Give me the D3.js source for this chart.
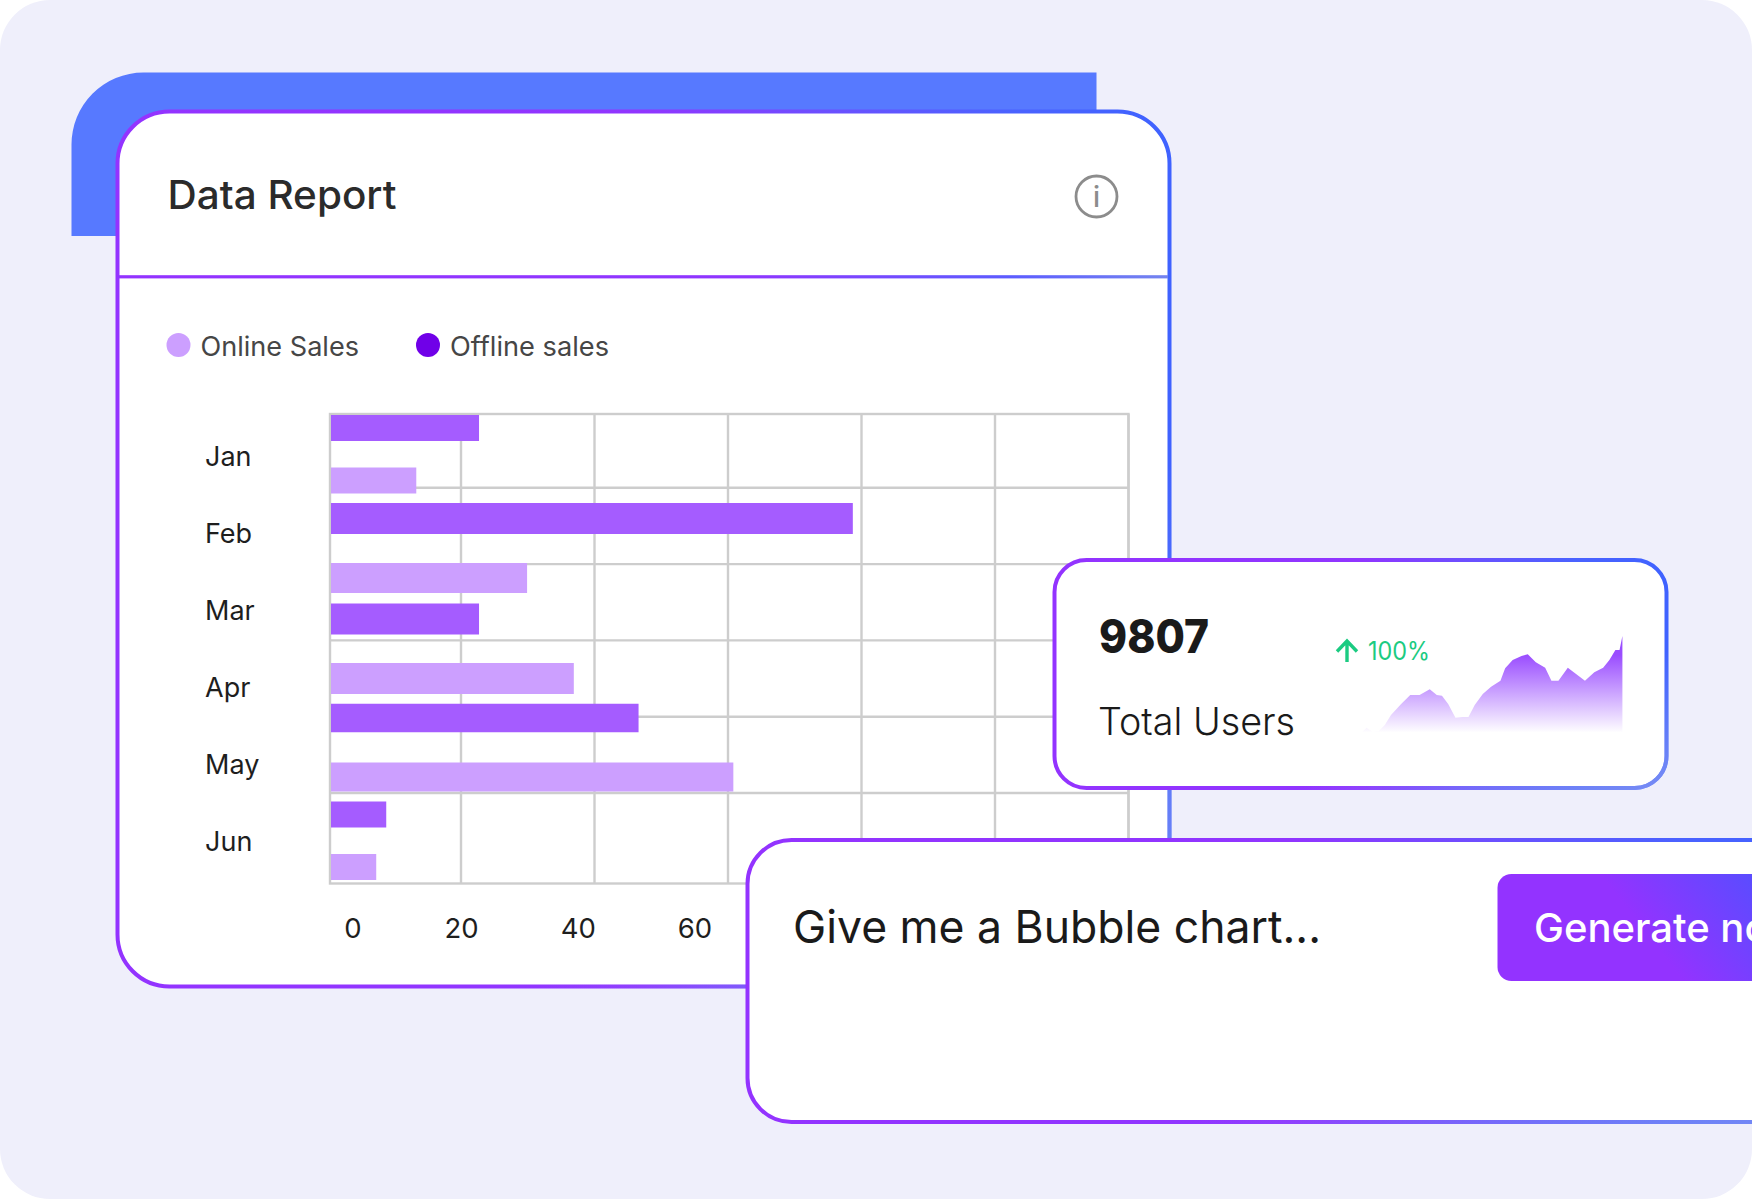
<!DOCTYPE html>
<html><head><meta charset="utf-8">
<script src="https://cdn.jsdelivr.net/npm/d3@7/dist/d3.min.js"></script>
<style>html,body{margin:0;padding:0;background:#fff;overflow:hidden}svg{display:block}text{font-family:Inter,"Open Sans",sans-serif}</style>
</head><body><div id="c"></div>
<script>
// ---- data ----
const months = ["Jan","Feb","Mar","Apr","May","Jun"];
const offlineSales = [22.7,78.7,22.7,46.6,8.8];
const onlineSales  = [13.3,29.9,36.9,60.8,7.3];
const gridTicks = [20,40,60,80,100,120];
const axisLabels = [0,20,40,60];
const legendNames = ["Online Sales","Offline sales"];
const sparkIndex = [0,1.6,3.9,6.3,8.6,11,14.9,18.4,22,25.9,28.6,30.6,33,35.8,38.5,40.8,43.2,46.3,49.5,53.1,54.9,57.8,61.2,63.6,66.7,70.3,72.7,75.4,79,85.6,89.2,92.6,95,97.3,98.9,100];
const sparkValues = [0,4.2,0,.7,7,17.4,28.9,38.3,38.3,44.3,38.3,37.6,28.9,14.6,15.3,15.3,27.9,39.4,47,53.3,66.2,74.9,79.1,80.8,72.5,66.9,53.3,53.3,66.9,53.3,62,66.9,74.9,85.4,85.4,100];

const W=1752,H=1199;
const svg=d3.select("#c").append("svg").attr("width",W).attr("height",H).attr("viewBox",`0 0 ${W} ${H}`);
const defs=svg.append("defs");
function grad(id,stops,x1=0,y1=0,x2=1,y2=0,units="objectBoundingBox"){
  const g=defs.append("linearGradient").attr("id",id).attr("gradientUnits",units).attr("x1",x1).attr("y1",y1).attr("x2",x2).attr("y2",y2);
  stops.forEach(([o,c,a])=>g.append("stop").attr("offset",o).attr("stop-color",c).attr("stop-opacity",a===undefined?1:a));
}
grad("border",[[0,"#9333ff"],[.5,"#9035ff"],[.68,"#6a50ff"],[.85,"#4a62ff"],[1,"#3f62ff"]],0,0,1,0);
grad("sheen",[[0,"#8a9af0",0],[1,"#8a9af0",.75]],.7,.7,1,1);
grad("divider",[[0,"#9333ff"],[.6,"#8f36ff"],[.85,"#5c5cff"],[1,"#7484ef"]]);
grad("button",[[0,"#9333ff"],[1,"#5a4cff"]],1600,874,1695,800,"userSpaceOnUse");
grad("spark",[[0,"#9a4dff"],[1,"#ffffff"]],0,655,0,733,"userSpaceOnUse");

function framedCard(parent,x,y,w,h,r){
  parent.append("rect").attr("x",x).attr("y",y).attr("width",w).attr("height",h).attr("rx",r).attr("fill","#fff").attr("stroke","url(#border)").attr("stroke-width",4);
  parent.append("rect").attr("x",x).attr("y",y).attr("width",w).attr("height",h).attr("rx",r).attr("fill","none").attr("stroke","url(#sheen)").attr("stroke-width",4);
}

// page background and back plate
svg.append("rect").attr("width",W).attr("height",H).attr("rx",50).attr("fill","#efeffb");
svg.append("path").attr("d","M71.5 236V145A72 72 0 0 1 143.5 72.5H1096.5V236Z").attr("fill","#5779ff");

// main card
const card=svg.append("g");
framedCard(card,117.5,111.5,1052,875,52);
card.append("rect").attr("x",119).attr("y",275.2).attr("width",1049).attr("height",3.2).attr("fill","url(#divider)");
card.append("text").attr("x",167.5).attr("y",209).attr("font-size",39.5).attr("font-weight",500).attr("fill","#2b2b2b").attr("textLength",229).attr("lengthAdjust","spacingAndGlyphs").text("Data Report");
// info icon
const ic=card.append("g").attr("transform","translate(1096.5,196.5)");
ic.append("circle").attr("r",20.5).attr("fill","none").attr("stroke","#8c8c8c").attr("stroke-width",2.8);
ic.append("text").attr("text-anchor","middle").attr("y",10.5).attr("font-size",28).attr("font-weight",500).attr("fill","#8c8c8c").text("i");

// legend
const legendColor=d3.scaleOrdinal(legendNames,["#cc9fff","#7000e8"]);
const legendX=d3.scalePoint(legendNames,[178.5,428]);
const lg=card.selectAll("g.lg").data(legendNames).join("g").attr("class","lg").attr("transform",d=>`translate(${legendX(d)},345)`);
lg.append("circle").attr("r",12).attr("fill",d=>legendColor(d));
lg.append("text").attr("x",22).attr("y",10.5).attr("font-size",27).attr("fill","#464646").attr("textLength",(d,i)=>i?159:158.5).attr("lengthAdjust","spacingAndGlyphs").text(d=>d);

// chart scales
const plotL=330,plotT=414,plotB=883.5,plotR=1128.5;
const x=d3.scaleLinear().domain([20,120]).range([461,1128.5]);
const gridY=d3.scaleLinear().domain([1,5]).range([487.8,793]);
const monthY=d3.scalePoint(months,[456.5,841]);
const labelX=d3.scaleLinear().domain([0,20,60]).range([353,461.5,695]);
const rows=d3.merge(offlineSales.map((v,i)=>[{s:"offline",v},{s:"online",v:onlineSales[i]}]));
const rowY=d3.scaleLinear().domain(d3.range(rows.length)).range([428,480.5,518.5,578,619,678.5,718,777,814.5,867]);
const rowH=d3.scaleOrdinal(d3.range(rows.length),[26,26,31,30,31,31,28.5,29,26,26]);
const barColor=d3.scaleOrdinal(["offline","online"],["#a55cff","#cc9fff"]);

const grid=card.append("g").attr("fill","none").attr("stroke","#cdcdcd").attr("stroke-width",2.4);
grid.selectAll("line.v").data(gridTicks).join("line").attr("class","v").attr("x1",d=>x(d)).attr("x2",d=>x(d)).attr("y1",plotT).attr("y2",plotB);
grid.selectAll("line.h").data(d3.range(1,6)).join("line").attr("class","h").attr("x1",plotL).attr("x2",plotR).attr("y1",d=>gridY(d)).attr("y2",d=>gridY(d));
grid.append("rect").attr("x",plotL).attr("y",plotT).attr("width",plotR-plotL).attr("height",plotB-plotT);

card.selectAll("rect.bar").data(rows).join("rect").attr("class","bar")
  .attr("x",plotL+1).attr("width",d=>x(d.v)-plotL-1)
  .attr("y",(d,i)=>rowY(i)-rowH(i)/2).attr("height",(d,i)=>rowH(i))
  .attr("fill",d=>barColor(d.s));

card.selectAll("text.m").data(months).join("text").attr("class","m").attr("x",205).attr("y",d=>monthY(d)+9.5).attr("font-size",27).attr("fill","#1e1e1e").text(d=>d);
card.selectAll("text.t").data(axisLabels).join("text").attr("class","t").attr("x",d=>labelX(d)).attr("y",938).attr("text-anchor","middle").attr("font-size",27.5).attr("fill","#1e1e1e").text(d=>d);

// stat card
const stat=svg.append("g");
framedCard(stat,1054.5,560,612,228,32);
stat.append("text").attr("x",1099).attr("y",653).attr("font-size",46).attr("font-weight",800).attr("fill","#1a1a1a").attr("textLength",110).attr("lengthAdjust","spacingAndGlyphs").text("9807");
stat.append("text").attr("x",1098).attr("y",735).attr("font-size",38).attr("font-weight",300).attr("fill","#1a1a1a").attr("textLength",197).attr("lengthAdjust","spacingAndGlyphs").text("Total Users");
stat.append("path").attr("d","M1347 662V642M1337 651.5L1347 641L1357 651.5").attr("fill","none").attr("stroke","#1ccb82").attr("stroke-width",3.4);
stat.append("text").attr("x",1368).attr("y",660).attr("font-size",25).attr("fill","#1ccb82").attr("textLength",62).attr("lengthAdjust","spacingAndGlyphs").text("100%");
const sx=d3.scaleLinear().domain([0,100]).range([1362.4,1622.4]);
const sy=d3.scaleLinear().domain([0,100]).range([731.7,636]);
stat.append("path").datum(sparkValues).attr("fill","url(#spark)")
  .attr("d",d3.area().x((d,i)=>sx(sparkIndex[i])).y0(sy(0)).y1(d=>sy(d)));

// prompt card
const prompt=svg.append("g");
framedCard(prompt,747.5,840,1100,282,44);
prompt.append("text").attr("x",793).attr("y",943).attr("font-size",45).attr("font-weight",400).attr("fill","#1a1a1a").attr("textLength",528).attr("lengthAdjust","spacingAndGlyphs").text("Give me a Bubble chart...");
prompt.append("rect").attr("x",1497.5).attr("y",874).attr("width",400).attr("height",107).attr("rx",14).attr("fill","url(#button)");
prompt.append("text").attr("x",1534).attr("y",942).attr("font-size",40).attr("font-weight",500).attr("fill","#fff").text("Generate now");
</script></body></html>
